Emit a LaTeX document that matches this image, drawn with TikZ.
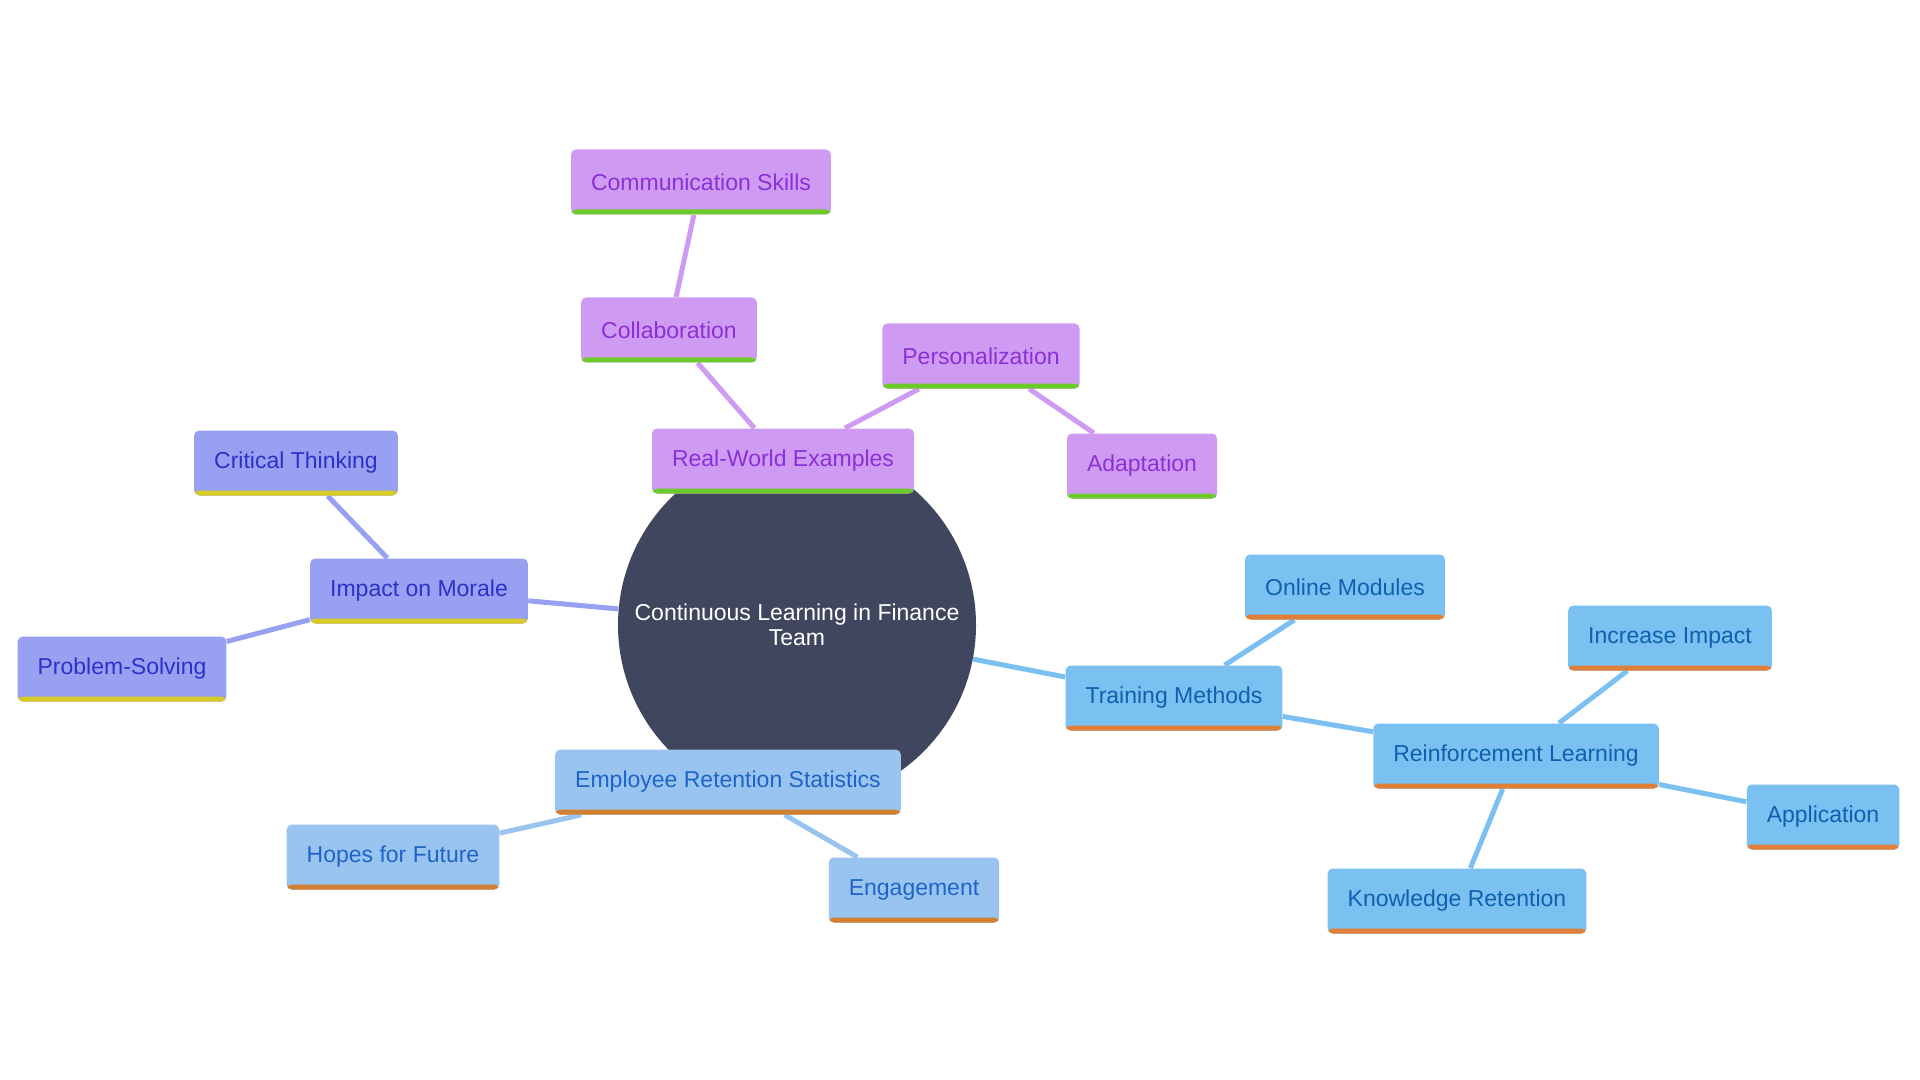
\documentclass[tikz,border=0pt]{standalone}
\usepackage{fontspec}
\setmainfont{Liberation Sans}
\usetikzlibrary{backgrounds}

\definecolor{hubfill}{HTML}{40465E}
\definecolor{rwfill}{HTML}{CF9BF2}
\definecolor{rwtext}{HTML}{8B2FD6}
\definecolor{rwbar}{HTML}{6CCB2A}
\definecolor{morfill}{HTML}{98A0F2}
\definecolor{mortext}{HTML}{3030C8}
\definecolor{morbar}{HTML}{D8CB28}
\definecolor{trfill}{HTML}{7AC0F0}
\definecolor{trtext}{HTML}{1060B0}
\definecolor{trbar}{HTML}{E08038}
\definecolor{erfill}{HTML}{9AC4F0}
\definecolor{ertext}{HTML}{1E64C8}
\definecolor{erbar}{HTML}{D08030}

\tikzset{
  leaf/.style n args={3}{rectangle, rounded corners=2.5pt, fill=#1, text=#2,
    minimum height=32.5pt, inner xsep=10pt,
    font=\fontsize{11.5pt}{13pt}\selectfont,
    path picture={\fill[#3] (path picture bounding box.south west) rectangle
      ([yshift=2.5pt]path picture bounding box.south east);}},
  rwbox/.style={leaf={rwfill}{rwtext}{rwbar}},
  morbox/.style={leaf={morfill}{mortext}{morbar}},
  trbox/.style={leaf={trfill}{trtext}{trbar}},
  erbox/.style={leaf={erfill}{ertext}{erbar}},
  link/.style={draw=#1, line width=2.5pt}
}

\begin{document}
\begin{tikzpicture}[x=0.5pt,y=-0.5pt]
  \useasboundingbox (0,0) rectangle (1920,1080);
  % centre
  \node[circle, fill=hubfill, text=white, minimum size=179pt, inner sep=0pt,
    align=center, font=\fontsize{11.5pt}{12.5pt}\selectfont]
    (hub) at (797,625) {Continuous Learning in Finance\\Team};
  % real-world examples
  \node[rwbox] (rw) at (783,461) {Real-World Examples};
  \node[rwbox] (collab) at (669,330) {Collaboration};
  \node[rwbox] (comm) at (701,182) {Communication Skills};
  \node[rwbox] (pers) at (981,356) {Personalization};
  \node[rwbox] (adapt) at (1142,466) {Adaptation};
  % morale
  \node[morbox] (morale) at (419,591) {Impact on Morale};
  \node[morbox] (crit) at (296,463) {Critical Thinking};
  \node[morbox] (prob) at (122,669) {Problem-Solving};
  % training
  \node[trbox] (train) at (1174,698) {Training Methods};
  \node[trbox] (online) at (1345,587) {Online Modules};
  \node[trbox] (reinf) at (1516,756) {Reinforcement Learning};
  \node[trbox] (incr) at (1670,638) {Increase Impact};
  \node[trbox] (appl) at (1823,817) {Application};
  \node[trbox] (know) at (1457,901) {Knowledge Retention};
  % retention
  \node[erbox] (ret) at (728,782) {Employee Retention Statistics};
  \node[erbox] (hopes) at (393,857) {Hopes for Future};
  \node[erbox] (engage) at (914,890) {Engagement};

  \begin{scope}[on background layer]
    \draw[link=rwfill] (hub) -- (rw) (rw) -- (collab) (collab) -- (comm)
      (rw) -- (pers) (pers) -- (adapt);
    \draw[link=morfill] (hub) -- (morale) (morale) -- (crit) (morale) -- (prob);
    \draw[link=trfill] (hub) -- (train) (train) -- (online) (train) -- (reinf)
      (reinf) -- (incr) (reinf) -- (appl) (reinf) -- (know);
    \draw[link=erfill] (hub) -- (ret) (ret) -- (hopes) (ret) -- (engage);
  \end{scope}
\end{tikzpicture}
\end{document}
